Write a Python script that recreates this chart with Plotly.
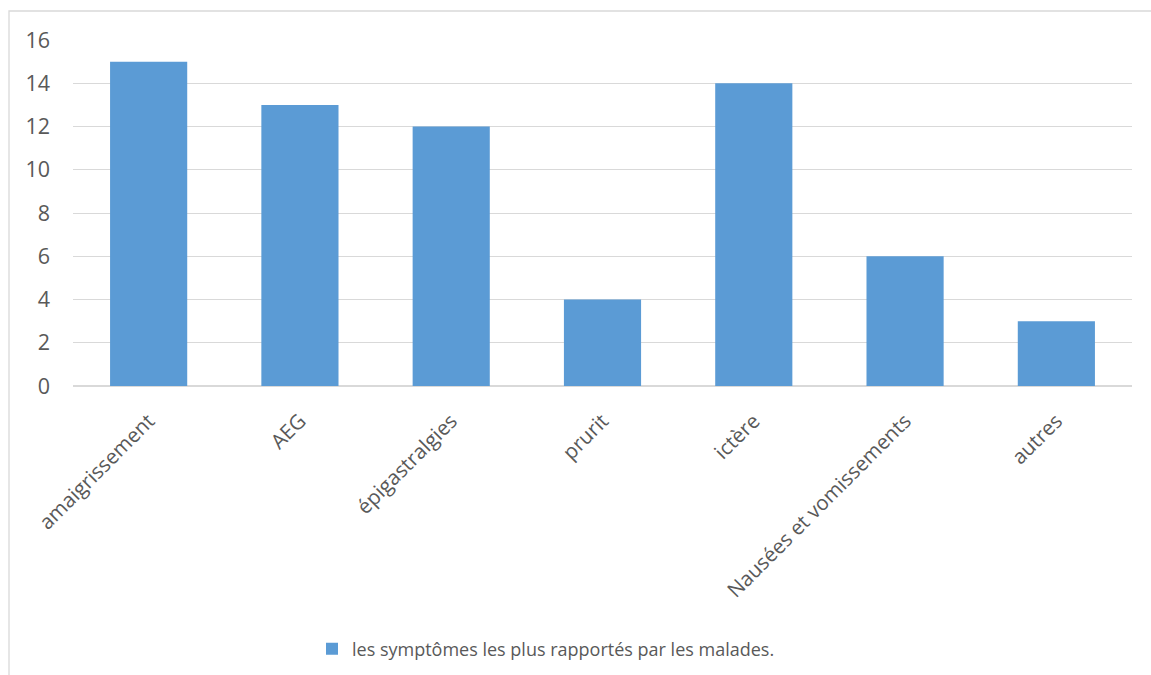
import plotly.graph_objects as go

categories = ["amaigrissement", "AEG", "épigastralgies", "prurit", "ictère",
              "Nausées et vomissements", "autres"]
values = [15, 13, 12, 4, 14, 6, 3]
series_name = "les symptômes les plus rapportés par les malades."
y_ticks = [0, 2, 4, 6, 8, 10, 12, 14, 16]

FONT = "Open Sans"
TXT = "#595959"
GRID = "#d9d9d9"

fig = go.Figure()
fig.add_trace(go.Bar(
    x=categories, y=values, name=series_name,
    marker=dict(color="#5B9BD5", line=dict(width=0)),
    showlegend=True,
))

L, R, T, B = 73, 19, 40, 289
W, H = 1151, 675
pw = W - L - R
ph = H - T - B

fig.update_layout(
    width=W, height=H,
    margin=dict(l=L, r=R, t=T, b=B, pad=0, autoexpand=False),
    paper_bgcolor="white", plot_bgcolor="white",
    bargap=0.49,
    font=dict(family=FONT, size=19, color=TXT),
    showlegend=True,
    legend=dict(orientation="h", x=(312 - L) / pw, xanchor="left",
                y=(H - B - 649) / ph, yanchor="middle",
                font=dict(family=FONT, size=18, color=TXT),
                itemsizing="constant"),
    xaxis=dict(type="category", tickangle=-45, showgrid=False,
               showline=False, zeroline=False, ticks="",
               tickfont=dict(family=FONT, size=20.5, color=TXT),
               ticklabelstandoff=18, fixedrange=True, automargin=False),
    yaxis=dict(range=[0, 16], tickvals=y_ticks, showgrid=True,
               gridcolor=GRID, gridwidth=1.3, zeroline=True,
               zerolinecolor=GRID, zerolinewidth=1.5, showline=False,
               ticks="", tickfont=dict(family=FONT, size=21.5, color=TXT),
               ticklabelstandoff=22, fixedrange=True, automargin=False),
    shapes=[dict(type="rect", xref="paper", yref="paper",
                 x0=(9 - L) / pw, x1=(W + 20 - L) / pw,
                 y0=(H - B - (H + 20)) / ph, y1=(H - B - 11) / ph,
                 line=dict(color=GRID, width=1.3), fillcolor="rgba(0,0,0,0)",
                 layer="below")],
)

fig.write_html("out.html")
